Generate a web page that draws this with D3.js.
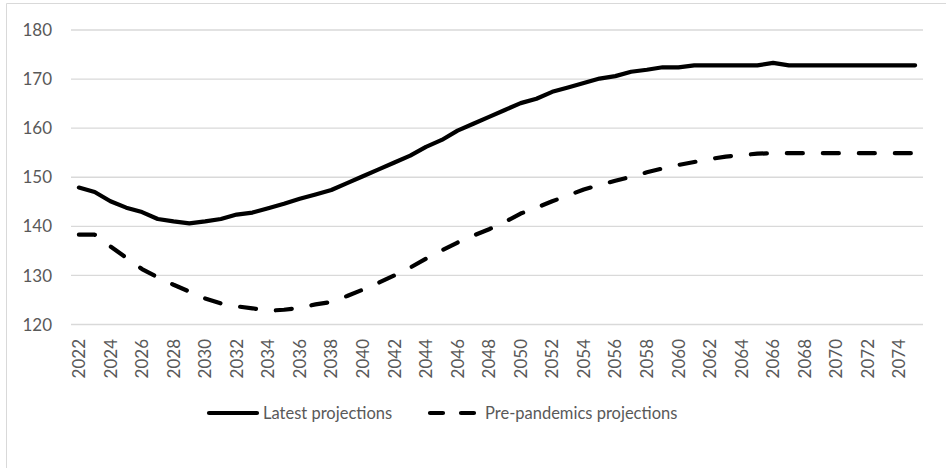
<!DOCTYPE html>
<html>
<head>
<meta charset="utf-8">
<script src="https://cdn.jsdelivr.net/npm/d3@7"></script>
<style>
	html, body { margin: 0; padding: 0; background: #fff; }
	svg { display: block; }
	text { font-family: Lato, "Open Sans", sans-serif; fill: #595959; }
</style>
</head>
<body>
<svg id="chart" width="946" height="468"></svg>
<script>
// categories: one per year
var years = d3.range(2022, 2076);

var latest = [
	147.8, 146.9, 145.0, 143.7, 142.8, 141.4, 140.9, 140.5, 140.9, 141.4,
	142.3, 142.7, 143.6, 144.5, 145.5, 146.4, 147.3, 148.7, 150.1, 151.5,
	152.9, 154.3, 156.1, 157.5, 159.4, 160.8, 162.2, 163.6, 165.0, 165.9,
	167.3, 168.2, 169.1, 170.0, 170.5, 171.4, 171.8, 172.3, 172.3, 172.7,
	172.7, 172.7, 172.7, 172.7, 173.2, 172.7, 172.7, 172.7, 172.7, 172.7,
	172.7, 172.7, 172.7, 172.7
];

var prePandemic = [
	138.2, 138.2, 135.8, 133.5, 131.2, 129.5, 128.0, 126.6, 125.2, 124.2,
	123.6, 123.2, 122.7, 122.9, 123.3, 124.0, 124.5, 125.7, 127.0, 128.4,
	129.9, 131.5, 133.3, 135.0, 136.6, 138.0, 139.3, 140.8, 142.5, 143.7,
	145.0, 146.2, 147.4, 148.3, 149.2, 150.0, 150.9, 151.7, 152.4, 153.0,
	153.6, 154.1, 154.4, 154.7, 154.8, 154.8, 154.8, 154.8, 154.8, 154.8,
	154.8, 154.8, 154.8, 154.8
];

var yTicks = [120, 130, 140, 150, 160, 170, 180];
var xTicks = years.filter(function(y) { return (y - 2022) % 2 === 0; });

var seriesNames = ["Latest projections", "Pre-pandemics projections"];

var svg = d3.select("#chart");

// chart area border (only top/left visible in the crop)
svg.append("path")
	.attr("d", "M6.5,468V3.5H946")
	.attr("fill", "none")
	.attr("stroke", "#d9d9d9")
	.attr("stroke-width", 1);

var x = d3.scaleBand()
	.domain(years)
	.range([71, 923]);

var y = d3.scaleLinear()
	.domain([120, 180])
	.range([324, 29.5]);

// gridlines + y labels
var yAxis = svg.append("g")
	.attr("transform", "translate(71,0)")
	.call(d3.axisLeft(y)
		.tickValues(yTicks)
		.tickSize(-(923 - 71))
		.tickPadding(19)
		.tickFormat(d3.format("d")));

yAxis.select(".domain").remove();
yAxis.selectAll(".tick line")
	.attr("stroke", "#d9d9d9")
	.attr("stroke-width", 1.3);
yAxis.selectAll(".tick text")
	.style("font-size", "17px")
	.attr("dy", "0.36em");

// x labels, rotated
var xAxis = svg.append("g")
	.attr("transform", "translate(0,324)")
	.call(d3.axisBottom(x)
		.tickValues(xTicks)
		.tickSize(0)
		.tickPadding(0));

xAxis.select(".domain").remove();
xAxis.selectAll(".tick text")
	.style("font-size", "17px")
	.attr("text-anchor", "end")
	.attr("transform", "rotate(-90)")
	.attr("x", -15)
	.attr("y", 0)
	.attr("dy", "0.36em");

var line = d3.line()
	.x(function(d, i) { return x(years[i]) + x.bandwidth() / 2; })
	.y(function(d) { return y(d); });

svg.append("path")
	.datum(prePandemic)
	.attr("d", line)
	.attr("fill", "none")
	.attr("stroke", "#000")
	.attr("stroke-width", 4.2)
	.attr("stroke-linecap", "round")
	.attr("stroke-linejoin", "round")
	.attr("stroke-dasharray", "16,20");

svg.append("path")
	.datum(latest)
	.attr("d", line)
	.attr("fill", "none")
	.attr("stroke", "#000")
	.attr("stroke-width", 4.2)
	.attr("stroke-linecap", "round")
	.attr("stroke-linejoin", "round");

// Legend
var legend = svg.append("g")
	.attr("class", "legend");

legend.append("line")
	.attr("x1", 209).attr("x2", 257)
	.attr("y1", 413).attr("y2", 413)
	.attr("stroke", "#000")
	.attr("stroke-width", 4.2)
	.attr("stroke-linecap", "round");

legend.append("text")
	.attr("x", 263)
	.attr("y", 413)
	.attr("dy", "0.36em")
	.style("font-size", "16.5px")
	.text(seriesNames[0]);

legend.append("line")
	.attr("x1", 430).attr("x2", 476)
	.attr("y1", 413).attr("y2", 413)
	.attr("stroke", "#000")
	.attr("stroke-width", 4.2)
	.attr("stroke-linecap", "round")
	.attr("stroke-dasharray", "13,18");

legend.append("text")
	.attr("x", 485)
	.attr("y", 413)
	.attr("dy", "0.36em")
	.style("font-size", "16.5px")
	.text(seriesNames[1]);
</script>
</body>
</html>
